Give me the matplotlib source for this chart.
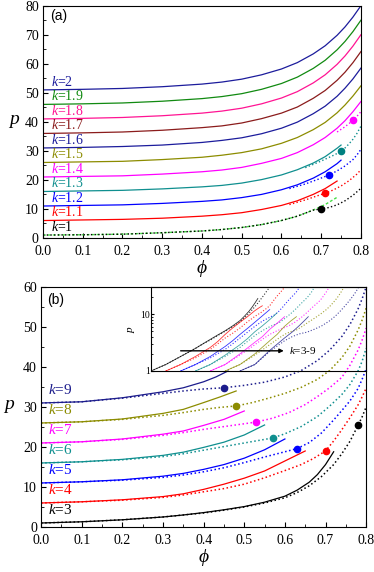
import matplotlib
matplotlib.use('Agg')
import matplotlib.pyplot as plt
from matplotlib.ticker import MultipleLocator, NullFormatter

plt.rcParams['font.family'] = 'Liberation Serif'
plt.rcParams['mathtext.fontset'] = 'custom'
plt.rcParams['mathtext.rm'] = 'Liberation Serif'
plt.rcParams['mathtext.it'] = 'Liberation Serif:italic'
plt.rcParams['xtick.direction'] = 'in'
plt.rcParams['ytick.direction'] = 'in'

# ---- panel (a) data ----
phi_a = [0, 0.1, 0.2, 0.3, 0.4, 0.45, 0.5, 0.55, 0.6, 0.64, 0.68, 0.71, 0.74, 0.76, 0.78, 0.8]
p_k20 = [51, 51.2, 51.5, 52.1, 53, 53.7, 54.7, 56.2, 58.2, 60.4, 63.4, 66.2, 69.8, 72.7, 76.1, 80]
p_k19 = [46, 46.2, 46.5, 47.1, 48, 48.7, 49.7, 51.2, 53.2, 55.4, 58.4, 61.2, 64.8, 67.7, 71.1, 75]
p_k18 = [41, 41.2, 41.5, 42.1, 43, 43.7, 44.7, 46.2, 48.2, 50.4, 53.4, 56.2, 59.8, 62.7, 66.1, 70]
p_k17 = [36, 36.2, 36.5, 37.1, 38, 38.6, 39.6, 41.1, 43, 45.1, 48.1, 50.8, 54.3, 57.1, 60.4, 64.2]
p_k16 = [31, 31.2, 31.5, 32, 32.9, 33.6, 34.5, 35.9, 37.8, 39.9, 42.8, 45.4, 48.8, 51.6, 54.8, 58.5]
p_k15 = [26, 26.2, 26.4, 27, 27.8, 28.5, 29.4, 30.7, 32.6, 34.6, 37.3, 39.8, 43.1, 45.8, 48.9, 52.4]
p_k14 = [21, 21.2, 21.4, 22, 22.8, 23.4, 24.3, 25.7, 27.4, 29.4, 32.1, 34.6, 37.8, 40.4, 43.5, 47]

phi_a13 = [0, 0.1, 0.2, 0.3, 0.4, 0.45, 0.5, 0.55, 0.6, 0.64, 0.68, 0.71, 0.74, 0.75]
p_k13 = [16, 16.2, 16.4, 16.9, 17.6, 18.1, 18.9, 20.1, 21.7, 23.5, 25.8, 28, 30.9, 32]
p_k12 = [11, 11.2, 11.4, 11.9, 12.6, 13.1, 13.9, 15, 16.6, 18.3, 20.6, 22.8, 25.6, 26.8]
phi_a11 = [0, 0.1, 0.2, 0.3, 0.4, 0.45, 0.5, 0.55, 0.6, 0.64, 0.68, 0.71, 0.74]
p_k11 = [6, 6.2, 6.4, 6.8, 7.5, 8, 8.7, 9.8, 11.2, 12.8, 15, 17, 19.6]
p_k10 = [1, 1.1, 1.3, 1.8, 2.4, 2.9, 3.6, 4.6, 6, 7.5, 9.6, 11.5, 14]

# dotted branches (a)
phi_d14 = [0.74, 0.76, 0.78, 0.79, 0.8]
p_d14 = [36.5, 38.3, 40.5, 41.9, 43.5]
phi_d13 = [0.66, 0.7, 0.73, 0.75, 0.76, 0.77, 0.78, 0.79, 0.8]
p_d13 = [24.2, 26.5, 28.4, 29.8, 31, 32.4, 34, 36, 38.5]
phi_d12 = [0.62, 0.66, 0.69, 0.72, 0.74, 0.76, 0.78, 0.79, 0.8]
p_d12 = [17, 18.6, 20.1, 21.7, 23.1, 24.8, 27, 28.6, 30.5]
phi_d11 = [0.62, 0.66, 0.69, 0.71, 0.73, 0.75, 0.77, 0.79, 0.8]
p_d11 = [11.5, 13.1, 14.5, 15.4, 16.5, 17.9, 19.7, 22, 23.5]
phi_d10 = [0, 0.1, 0.2, 0.3, 0.4, 0.45, 0.5, 0.55, 0.6, 0.64, 0.68, 0.7, 0.72, 0.74, 0.76, 0.78, 0.8]
p_d10 = [1, 1.1, 1.3, 1.8, 2.4, 2.9, 3.6, 4.6, 6, 7.5, 9.6, 10, 10.5, 11.4, 12.8, 14.7, 17.1]

dot_phi_a = [0.70, 0.71, 0.72, 0.75, 0.78]
dot_p_a = [10, 15.4, 21.7, 29.8, 40.5]
dot_col_a = ['black', 'red', 'blue', '#008080', '#ff00ff']

labels_a = ['2', '1.9', '1.8', '1.7', '1.6', '1.5', '1.4', '1.3', '1.2', '1.1', '1']
start_a = [51, 46, 41, 36, 31, 26, 21, 16, 11, 6, 1]
colors_a = ['#1c1c9c', '#118a11', '#ff1493', '#8b1c1c', '#1c1c9c', '#8c8c00',
            '#ff00ff', '#0f8f8f', '#0000ff', '#ff0000', 'black']

# ---- panel (b) data ----
phi_s3 = [0, 0.1, 0.2, 0.3, 0.35, 0.4, 0.45, 0.5, 0.55, 0.6, 0.63, 0.66, 0.68, 0.7, 0.72]
p_s3 = [1, 1.3, 1.8, 2.5, 3, 3.6, 4.3, 5.1, 6.2, 7.7, 9.2, 11.2, 13.1, 15.6, 18.8]
phi_d3 = [0, 0.1, 0.2, 0.3, 0.35, 0.4, 0.45, 0.5, 0.55, 0.6, 0.63, 0.66, 0.69, 0.72, 0.74, 0.76, 0.78, 0.79, 0.8]
p_d3 = [1, 1.3, 1.8, 2.5, 3, 3.5, 4.2, 5, 6, 7.3, 8.6, 10.3, 12.6, 15.6, 18.3, 21.4, 25.4, 27.5, 30]

phi_s4 = [0, 0.1, 0.2, 0.3, 0.35, 0.4, 0.45, 0.5, 0.55, 0.6, 0.63, 0.65]
p_s4 = [6, 6.3, 6.8, 7.6, 8.3, 9.4, 10.7, 12.2, 14, 16.5, 18, 19]
phi_d4 = [0, 0.1, 0.2, 0.3, 0.35, 0.4, 0.45, 0.5, 0.55, 0.6, 0.64, 0.67, 0.7, 0.72, 0.74, 0.76, 0.78, 0.79, 0.8]
p_d4 = [6, 6.3, 6.7, 7.4, 8, 8.8, 9.6, 10.7, 12.3, 14.1, 15.6, 17.1, 19, 21.5, 24.3, 27.3, 30.5, 32.5, 34.7]

phi_s5 = [0, 0.1, 0.2, 0.3, 0.35, 0.4, 0.45, 0.5, 0.55, 0.6]
p_s5 = [11, 11.3, 11.8, 12.7, 13.4, 14.4, 15.6, 17.2, 19.3, 22]
phi_d5 = [0, 0.1, 0.2, 0.3, 0.35, 0.4, 0.45, 0.5, 0.55, 0.6, 0.63, 0.66, 0.69, 0.72, 0.74, 0.76, 0.78, 0.79, 0.8]
p_d5 = [11, 11.3, 11.7, 12.4, 13, 13.8, 14.8, 16.1, 17.5, 18.8, 19.6, 21.1, 23.5, 26.75, 29.1, 31.5, 34.6, 36.9, 39.5]

phi_s6 = [0, 0.1, 0.2, 0.3, 0.35, 0.4, 0.45, 0.5, 0.55]
p_s6 = [16, 16.3, 16.9, 17.9, 18.7, 19.9, 21.2, 23, 25.5]
phi_d6 = [0, 0.1, 0.2, 0.3, 0.35, 0.4, 0.45, 0.5, 0.57, 0.6, 0.64, 0.68, 0.71, 0.74, 0.76, 0.78, 0.79, 0.8]
p_d6 = [16, 16.3, 16.8, 17.6, 18.3, 19.2, 20.1, 21, 22.25, 23.3, 25.1, 27.6, 30.2, 33.1, 35.6, 39, 41.4, 44.7]

phi_s7 = [0, 0.1, 0.2, 0.3, 0.35, 0.4, 0.45, 0.5]
p_s7 = [21, 21.3, 22, 23.2, 24, 25.4, 26.9, 29]
phi_d7 = [0, 0.1, 0.2, 0.3, 0.35, 0.4, 0.45, 0.5, 0.53, 0.57, 0.61, 0.65, 0.68, 0.71, 0.74, 0.76, 0.78, 0.79, 0.8]
p_d7 = [21, 21.3, 21.9, 22.9, 23.6, 24.4, 25.1, 25.8, 26.25, 27.2, 28.6, 30.6, 32.6, 34.8, 37.4, 40.4, 44.2, 46.7, 49.7]

phi_s8 = [0, 0.1, 0.2, 0.3, 0.35, 0.4, 0.44, 0.48]
p_s8 = [26, 26.3, 27, 28.4, 29.4, 31.1, 32.5, 34]
phi_d8 = [0, 0.1, 0.2, 0.3, 0.35, 0.4, 0.44, 0.48, 0.52, 0.56, 0.6, 0.64, 0.68, 0.71, 0.74, 0.76, 0.78, 0.79, 0.8]
p_d8 = [26, 26.3, 26.9, 27.9, 28.6, 29.4, 29.9, 30.25, 31.1, 32.2, 33.4, 34.9, 36.9, 39.1, 42.3, 45.2, 49.2, 51.7, 54.7]

phi_s9 = [0, 0.1, 0.2, 0.3, 0.35, 0.4, 0.43, 0.46]
p_s9 = [31, 31.3, 32.3, 33.8, 34.8, 36.3, 37.5, 39]
phi_d9 = [0, 0.1, 0.2, 0.3, 0.35, 0.4, 0.45, 0.5, 0.55, 0.6, 0.64, 0.68, 0.71, 0.74, 0.76, 0.78, 0.79, 0.8]
p_d9 = [31, 31.3, 32.2, 33.4, 34, 34.5, 34.8, 35.4, 36.2, 37.5, 39.1, 41.6, 44.2, 47.6, 50.6, 54.5, 57, 60]

dot_phi_b = [0.78, 0.70, 0.63, 0.57, 0.53, 0.48, 0.45]
dot_p_b = [25.4, 19, 19.6, 22.25, 26.25, 30.25, 34.8]

labels_b = ['3', '4', '5', '6', '7', '8', '9']
start_b = [1, 6, 11, 16, 21, 26, 31]
colors_b = ['black', '#ff0000', '#0000ff', '#0f8f8f', '#ff00ff', '#8c8c00', '#1c1c8c']

fig = plt.figure(figsize=(3.74, 5.72), dpi=100)


def style_axes(ax, ymax):
    ax.set_xlim(0, 0.8)
    ax.set_ylim(0, ymax)
    ax.xaxis.set_major_locator(MultipleLocator(0.1))
    ax.xaxis.set_minor_locator(MultipleLocator(0.05))
    ax.yaxis.set_major_locator(MultipleLocator(10))
    ax.yaxis.set_minor_locator(MultipleLocator(5))
    ax.xaxis.set_major_formatter(plt.FormatStrFormatter('%.1f'))
    ax.tick_params(labelsize=10, length=3.5, pad=3)
    ax.tick_params(axis='x', pad=5)
    ax.tick_params(which='minor', length=2)
    ax.set_xlabel(r'$\phi$', fontsize=14, labelpad=0)


# ================= (a) =================
ax1 = fig.add_axes([0.115, 0.584, 0.850, 0.406])
full_a = [p_k20, p_k19, p_k18, p_k17, p_k16, p_k15, p_k14]
for i, pp in enumerate(full_a):
    ax1.plot(phi_a, pp, '-', color=colors_a[i], lw=0.9)
ax1.plot(phi_a13, p_k13, '-', color=colors_a[7], lw=0.9)
ax1.plot(phi_a13, p_k12, '-', color=colors_a[8], lw=0.9)
ax1.plot(phi_a11, p_k11, '-', color=colors_a[9], lw=0.9)
ax1.plot(phi_a11, p_k10, '--', color='#44dd44', lw=1.0, dashes=(2, 1.5))
dots_a = [(phi_d14, p_d14, '#ff00ff'), (phi_d13, p_d13, '#0f8f8f'),
          (phi_d12, p_d12, '#0000ff'), (phi_d11, p_d11, '#ff0000'),
          (phi_d10, p_d10, 'black')]
for ph, pp, c in dots_a:
    ax1.plot(ph, pp, ':', color=c, lw=1.0)
for x, y, c in zip(dot_phi_a, dot_p_a, dot_col_a):
    ax1.plot(x, y, 'o', color=c, ms=4.5, zorder=5)
for lab, y0, c in zip(labels_a, start_a, colors_a):
    ax1.text(0.02, y0 + 1.4, r'$k$=' + lab, color=c, fontsize=10, va='baseline')

style_axes(ax1, 80)
ax1.set_ylabel(r'$p$', fontsize=14, rotation=0, labelpad=8, va='center')
ax1.text(0.022, 0.985, '(a)', transform=ax1.transAxes, fontsize=10,
         family='Liberation Sans', va='top')

# ================= (b) =================
ax2 = fig.add_axes([0.110, 0.0787, 0.869, 0.4196])
solid_b = [(phi_s3, p_s3), (phi_s4, p_s4), (phi_s5, p_s5), (phi_s6, p_s6),
           (phi_s7, p_s7), (phi_s8, p_s8), (phi_s9, p_s9)]
dotted_b = [(phi_d3, p_d3), (phi_d4, p_d4), (phi_d5, p_d5), (phi_d6, p_d6),
            (phi_d7, p_d7), (phi_d8, p_d8), (phi_d9, p_d9)]
for i in range(7):
    c = colors_b[i]
    ax2.plot(solid_b[i][0], solid_b[i][1], '-', color=c, lw=0.9)
    ax2.plot(dotted_b[i][0], dotted_b[i][1], ':', color=c, lw=1.1)
    ax2.plot(dot_phi_b[i], dot_p_b[i], 'o', color=c, ms=4.5, zorder=5)
    ax2.text(0.017, start_b[i] + 2.3, r'$k$=' + labels_b[i], color=c,
             fontsize=11, va='baseline')

style_axes(ax2, 60)
ax2.set_ylabel(r'$p$', fontsize=14, rotation=0, labelpad=10, va='center')
ax2.text(0.018, 0.975, '(b)', transform=ax2.transAxes, fontsize=10,
         family='Liberation Sans', va='top')

# inset: curves without offset, shifted along phi, log scale
ins = ax2.inset_axes([0.338, 0.65, 0.662, 0.35])
ins.patch.set_alpha(0)
for i in range(7):
    c = colors_b[i]
    sh = 0.1 * i
    ins.plot([x + sh for x in solid_b[i][0]], [y - start_b[i] + 1 for y in solid_b[i][1]],
             '-', color=c, lw=0.6, alpha=0.8)
    ins.plot([x + sh for x in dotted_b[i][0]], [y - start_b[i] + 1 for y in dotted_b[i][1]],
             ':', color=c, lw=0.8, alpha=0.8)
ins.set_yscale('log')
ins.set_ylim(1, 30)
ins.set_xlim(0, 1.45)
ins.set_xticks([])
ins.set_yticks([1, 10])
ins.set_yticklabels(['1', '10'])
ins.yaxis.set_minor_formatter(NullFormatter())
ins.tick_params(labelsize=7, length=2.5, pad=1)
ins.tick_params(which='minor', length=1.5)
ins.set_ylabel(r'$p$', fontsize=8, labelpad=2)
ins.annotate('', xy=(0.63, 0.24), xytext=(0.125, 0.24), xycoords='axes fraction',
             arrowprops=dict(arrowstyle='-|>', color='black', lw=1.0,
                             mutation_scale=6))
ins.text(0.64, 0.24, r'$k$=3-9', transform=ins.transAxes, fontsize=8, va='center')

fig.savefig('out.png', dpi=100)
